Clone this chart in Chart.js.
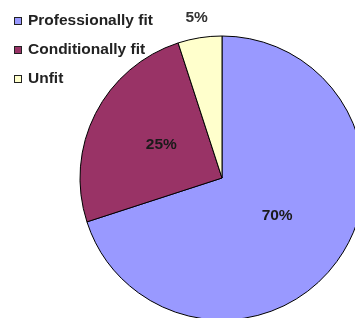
<!DOCTYPE html>
<html>
<head>
<meta charset="utf-8">
<script src="https://cdn.jsdelivr.net/npm/chart.js@4/dist/chart.umd.min.js"></script>
<style>
html,body{margin:0;padding:0;background:#fff;overflow:hidden;width:355px;height:318px;}
#wrap{position:absolute;left:0;top:0;width:400px;height:340px;}
</style>
</head>
<body>
<div id="wrap"><canvas id="c" width="400" height="340"></canvas></div>
<script>
const categories = ["Professionally fit", "Conditionally fit", "Unfit"];
const values = [70, 25, 5];
const valueLabels = ["70%", "25%", "5%"];
const colors = ["#9999FF", "#993366", "#FFFFCC"];

const FONT = "bold 15.5px 'Liberation Sans', Arial, sans-serif";

const overlay = {
  id: "overlay",
  afterDatasetsDraw(chart) {
    const ctx = chart.ctx;
    const meta = chart.getDatasetMeta(0);
    ctx.save();
    ctx.font = FONT;
    ctx.textAlign = "center";
    ctx.textBaseline = "middle";
    meta.data.forEach((arc, i) => {
      const mid = (arc.startAngle + arc.endAngle) / 2;
      const small = values[i] < 10;
      const r = arc.outerRadius * (small ? 1.14 : 0.48);
      const x = arc.x + Math.cos(mid) * r;
      const y = arc.y + Math.sin(mid) * r - (small ? 0 : 2);
      ctx.fillStyle = small ? "#333" : "#1a1a1a";
      ctx.fillText(valueLabels[i], x, y);
    });
    // legend
    ctx.textAlign = "left";
    categories.forEach((name, i) => {
      const cy = 21 + i * 29;
      ctx.fillStyle = colors[i];
      ctx.fillRect(14.5, cy - 3.5, 7, 7);
      ctx.strokeStyle = "#222";
      ctx.lineWidth = 1;
      ctx.strokeRect(14.5, cy - 3.5, 7, 7);
      ctx.fillStyle = "#222";
      ctx.fillText(name, 28, cy);
    });
    ctx.restore();
  }
};

new Chart(document.getElementById("c"), {
  type: "pie",
  data: {
    labels: categories,
    datasets: [{
      data: values,
      backgroundColor: colors,
      borderColor: "#000",
      borderWidth: 1,
      hoverOffset: 0,
      radius: 142
    }]
  },
  options: {
    responsive: false,
    animation: false,
    layout: { padding: { left: 80, top: 36, right: 36, bottom: 20 } },
    plugins: { legend: { display: false }, tooltip: { enabled: false } },
    events: []
  },
  plugins: [overlay]
});
</script>
</body>
</html>
